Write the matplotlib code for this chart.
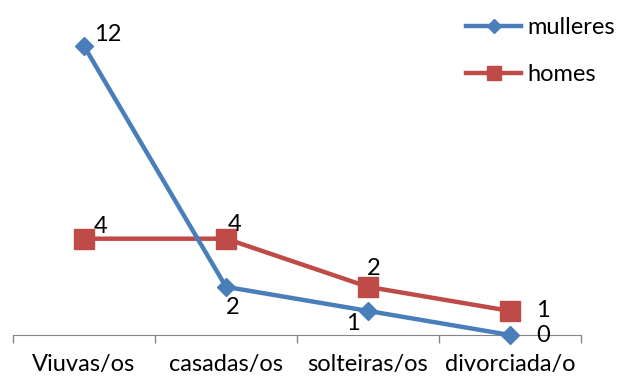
import matplotlib.pyplot as plt
import numpy as np

categories = ['Viuvas/os', 'casadas/os', 'solteiras/os', 'divorciada/o']
mulleres = [12, 2, 1, 0]
homes = [4, 4, 2, 1]

plt.rcParams['font.family'] = ['Lato', 'DejaVu Sans']

fig = plt.figure(figsize=(6.21, 3.81), dpi=100)
ax = fig.add_axes([13 / 621, 46 / 381, 568 / 621, 313 / 381])

blue = '#4A7EBB'
red = '#BE4B48'
x = np.arange(len(categories))
ax.plot(x, homes, color=red, lw=3.2, marker='s', ms=14, clip_on=False,
        label='homes', zorder=3)
ax.plot(x, mulleres, color=blue, lw=3.2, marker='D', ms=9, clip_on=False,
        label='mulleres', zorder=4)

ax.set_xlim(-0.5, len(categories) - 0.5)
ax.set_ylim(0, 13)
ax.set_xticks(np.arange(len(categories) + 1) - 0.5)
ax.set_xticklabels([])
ax.set_xticks(x, minor=True)
ax.set_xticklabels(categories, minor=True, fontsize=17)
ax.tick_params(axis='x', which='major', length=6, color='#868686', width=1)
ax.tick_params(axis='x', which='minor', length=0, pad=14)
ax.set_yticks([])
for s in ['top', 'right', 'left']:
    ax.spines[s].set_visible(False)
ax.spines['bottom'].set_color('#868686')

# data label offsets (points)
m_off = [(17, 8), (5, -15), (-11, -9), (24, 0)]
h_off = [(12, 9), (6, 10), (4, 13), (24, 0)]
for i in range(len(categories)):
    ax.annotate(str(mulleres[i]), (x[i], mulleres[i]), xytext=m_off[i],
                textcoords='offset points', fontsize=17, ha='center',
                va='center', annotation_clip=False)
    ax.annotate(str(homes[i]), (x[i], homes[i]), xytext=h_off[i],
                textcoords='offset points', fontsize=17, ha='center',
                va='center', annotation_clip=False)

handles, labels = ax.get_legend_handles_labels()
fig.legend(handles[::-1], labels[::-1], loc='upper left',
           bbox_to_anchor=(466 / 621, 1 - 17 / 381), frameon=False,
           fontsize=17, handlelength=2.33, handletextpad=0.25,
           labelspacing=1.1, markerscale=0.75, borderpad=0,
           borderaxespad=0)

fig.savefig('out.png', dpi=100)
